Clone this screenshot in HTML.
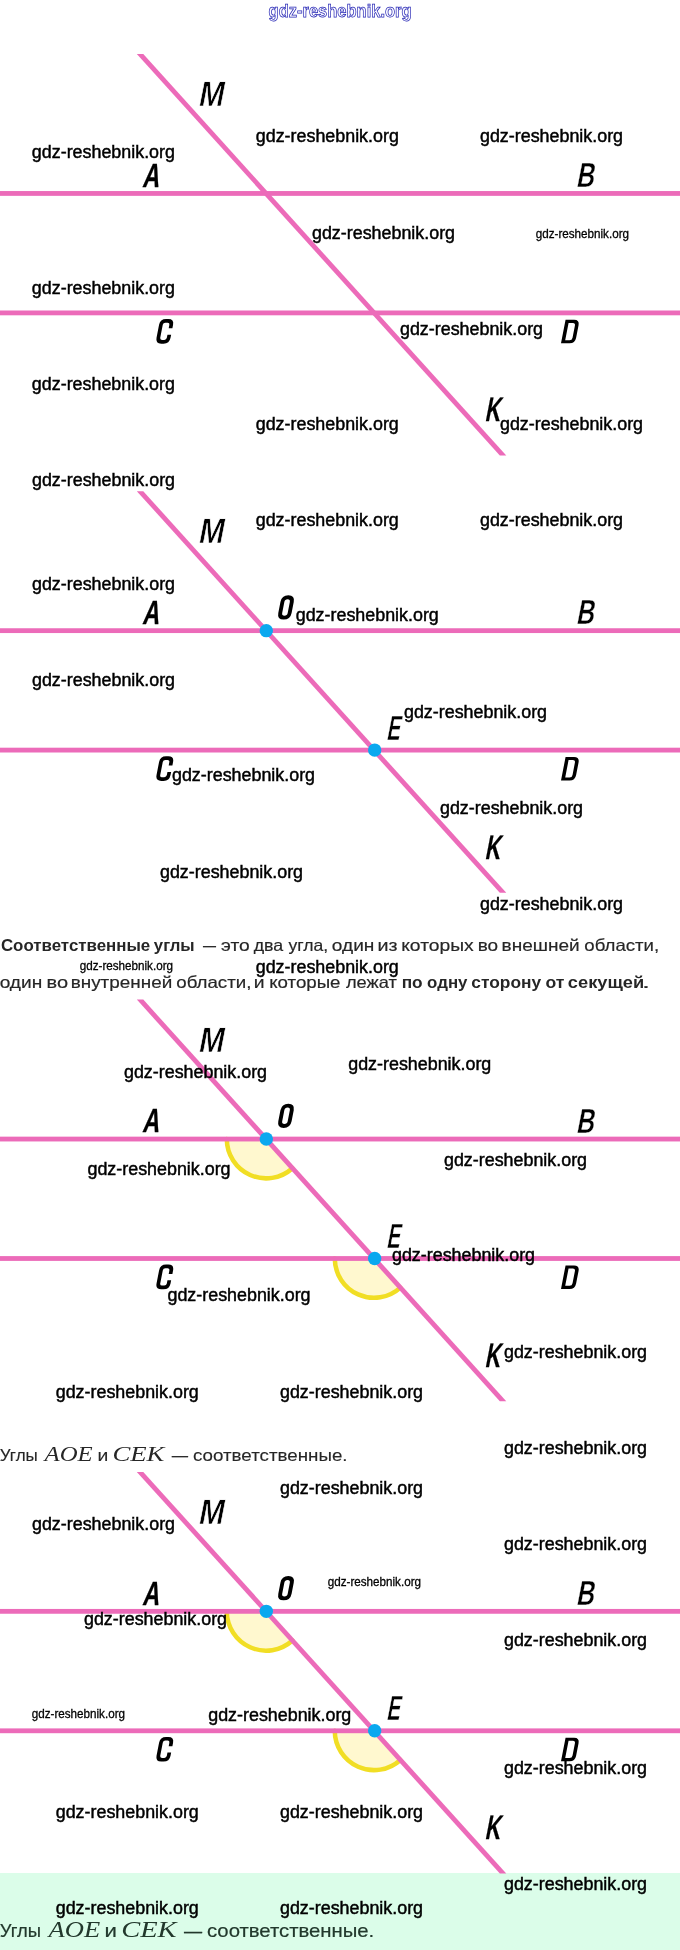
<!DOCTYPE html>
<html><head><meta charset="utf-8"><style>
html,body{margin:0;padding:0;background:#fff;}
body{width:680px;height:1950px;position:relative;overflow:hidden;font-family:"Liberation Sans",sans-serif;}
svg{position:absolute;left:0;top:0;}
.lb{font-family:"Liberation Sans",sans-serif;font-weight:bold;fill:#000;}
.wm text{font-family:"Liberation Sans",sans-serif;fill:#000;}
.tx{font-family:"Liberation Sans",sans-serif;fill:#333;}
.tb{font-weight:bold;}
.mi{font-family:"Liberation Serif",serif;font-style:italic;}
</style></head><body>
<div style="position:absolute;left:0;top:1872.5px;width:680px;height:77.5px;background:#dbfde9"></div>
<svg width="680" height="1950" viewBox="0 0 680 1950" style="will-change:transform">
<g transform="translate(0,0)">
<rect x="0" y="191.05" width="680" height="4.8" fill="#ec6bb9"/>
<rect x="0" y="310.50" width="680" height="4.8" fill="#ec6bb9"/>
<polygon points="136.81,54.00 143.29,54.00 506.29,455.60 499.81,455.60" fill="#ec6bb9"/>
<text class="lb" stroke="#fff" stroke-width="0.7" font-size="35.33" transform="translate(197.5,106.0) skewX(-11) scale(0.8627,1)">M</text>
<text class="lb" stroke="#000" stroke-width="0.35" font-size="33.49" transform="translate(142.0,186.75) skewX(-11) scale(0.6978,1)">A</text>
<text class="lb" stroke="#fff" stroke-width="0.4" font-size="34.94" transform="translate(575.75,187.25) skewX(-11) scale(0.702,1)">B</text>
<path transform="translate(155.40,343.70) skewX(-11)" d="M12.15,-15.40 L12.15,-18.85 Q12.15,-22.85 8.15,-22.85 L5.85,-22.85 Q1.85,-22.85 1.85,-18.85 L1.85,-5.85 Q1.85,-1.85 5.85,-1.85 L8.15,-1.85 Q12.15,-1.85 12.15,-5.85 L12.15,-9.00" fill="none" stroke="#000" stroke-width="3.7" stroke-linecap="butt"/>
<path transform="translate(561.00,343.30) skewX(-11)" d="M0,0 L0,-23.5 L8.55,-23.5 Q14.05,-23.5 14.05,-18.00 L14.05,-5.50 Q14.05,0 8.55,0 Z M3.60,-3.10 L7.95,-3.10 Q10.45,-3.10 10.45,-5.60 L10.45,-17.90 Q10.45,-20.40 7.95,-20.40 L3.60,-20.40 Z" fill="#000" fill-rule="evenodd"/>
<text class="lb" stroke="#000" stroke-width="0.3" font-size="33.84" transform="translate(484.45,421.4) skewX(-11) scale(0.623,1)">K</text>
</g><g transform="translate(0,437.2)">
<rect x="0" y="191.05" width="680" height="4.8" fill="#ec6bb9"/>
<rect x="0" y="310.50" width="680" height="4.8" fill="#ec6bb9"/>
<polygon points="136.81,54.00 143.29,54.00 506.29,455.60 499.81,455.60" fill="#ec6bb9"/>
<circle cx="266.30" cy="193.45" r="6.7" fill="#0ba8ef"/>
<circle cx="374.67" cy="312.90" r="6.7" fill="#0ba8ef"/>
<text class="lb" stroke="#fff" stroke-width="0.7" font-size="35.33" transform="translate(197.5,106.0) skewX(-11) scale(0.8627,1)">M</text>
<text class="lb" stroke="#000" stroke-width="0.35" font-size="33.49" transform="translate(142.0,186.75) skewX(-11) scale(0.6978,1)">A</text>
<text class="lb" stroke="#fff" stroke-width="0.4" font-size="34.94" transform="translate(575.75,187.25) skewX(-11) scale(0.702,1)">B</text>
<path transform="translate(155.40,343.70) skewX(-11)" d="M12.15,-15.40 L12.15,-18.85 Q12.15,-22.85 8.15,-22.85 L5.85,-22.85 Q1.85,-22.85 1.85,-18.85 L1.85,-5.85 Q1.85,-1.85 5.85,-1.85 L8.15,-1.85 Q12.15,-1.85 12.15,-5.85 L12.15,-9.00" fill="none" stroke="#000" stroke-width="3.7" stroke-linecap="butt"/>
<path transform="translate(561.00,343.30) skewX(-11)" d="M0,0 L0,-23.5 L8.55,-23.5 Q14.05,-23.5 14.05,-18.00 L14.05,-5.50 Q14.05,0 8.55,0 Z M3.60,-3.10 L7.95,-3.10 Q10.45,-3.10 10.45,-5.60 L10.45,-17.90 Q10.45,-20.40 7.95,-20.40 L3.60,-20.40 Z" fill="#000" fill-rule="evenodd"/>
<text class="lb" stroke="#000" stroke-width="0.3" font-size="33.84" transform="translate(484.45,421.4) skewX(-11) scale(0.623,1)">K</text>
<path transform="translate(277.00,182.40) skewX(-11)" d="M1.95,-17.65 Q1.95,-22.35 6.65,-22.35 L6.65,-22.35 Q11.35,-22.35 11.35,-17.65 L11.35,-6.65 Q11.35,-1.95 6.65,-1.95 L6.65,-1.95 Q1.95,-1.95 1.95,-6.65 Z" fill="none" stroke="#000" stroke-width="3.9" stroke-linecap="butt"/>
<text class="lb" stroke="#fff" stroke-width="0.5" font-size="35.02" transform="translate(386.0,302.55) skewX(-11) scale(0.5767,1)">E</text>
</g><g transform="translate(0,945.6)">
<path d="M266.10,193.45 L226.80,193.45 A39.3,39.3 0 0 0 292.45,222.61 Z" fill="#fff8cf"/>
<path d="M226.80,193.45 A39.3,39.3 0 0 0 292.45,222.61" fill="none" stroke="#f1de24" stroke-width="4.5" stroke-linecap="round"/>
<path d="M374.07,312.90 L334.77,312.90 A39.3,39.3 0 0 0 400.42,342.06 Z" fill="#fff8cf"/>
<path d="M334.77,312.90 A39.3,39.3 0 0 0 400.42,342.06" fill="none" stroke="#f1de24" stroke-width="4.5" stroke-linecap="round"/>
<rect x="0" y="191.05" width="680" height="4.8" fill="#ec6bb9"/>
<rect x="0" y="310.50" width="680" height="4.8" fill="#ec6bb9"/>
<polygon points="136.81,54.00 143.29,54.00 506.29,455.60 499.81,455.60" fill="#ec6bb9"/>
<circle cx="266.30" cy="193.45" r="6.7" fill="#0ba8ef"/>
<circle cx="374.67" cy="312.90" r="6.7" fill="#0ba8ef"/>
<text class="lb" stroke="#fff" stroke-width="0.7" font-size="35.33" transform="translate(197.5,106.0) skewX(-11) scale(0.8627,1)">M</text>
<text class="lb" stroke="#000" stroke-width="0.35" font-size="33.49" transform="translate(142.0,186.75) skewX(-11) scale(0.6978,1)">A</text>
<text class="lb" stroke="#fff" stroke-width="0.4" font-size="34.94" transform="translate(575.75,187.25) skewX(-11) scale(0.702,1)">B</text>
<path transform="translate(155.40,343.70) skewX(-11)" d="M12.15,-15.40 L12.15,-18.85 Q12.15,-22.85 8.15,-22.85 L5.85,-22.85 Q1.85,-22.85 1.85,-18.85 L1.85,-5.85 Q1.85,-1.85 5.85,-1.85 L8.15,-1.85 Q12.15,-1.85 12.15,-5.85 L12.15,-9.00" fill="none" stroke="#000" stroke-width="3.7" stroke-linecap="butt"/>
<path transform="translate(561.00,343.30) skewX(-11)" d="M0,0 L0,-23.5 L8.55,-23.5 Q14.05,-23.5 14.05,-18.00 L14.05,-5.50 Q14.05,0 8.55,0 Z M3.60,-3.10 L7.95,-3.10 Q10.45,-3.10 10.45,-5.60 L10.45,-17.90 Q10.45,-20.40 7.95,-20.40 L3.60,-20.40 Z" fill="#000" fill-rule="evenodd"/>
<text class="lb" stroke="#000" stroke-width="0.3" font-size="33.84" transform="translate(484.45,421.4) skewX(-11) scale(0.623,1)">K</text>
<path transform="translate(277.00,182.40) skewX(-11)" d="M1.95,-17.65 Q1.95,-22.35 6.65,-22.35 L6.65,-22.35 Q11.35,-22.35 11.35,-17.65 L11.35,-6.65 Q11.35,-1.95 6.65,-1.95 L6.65,-1.95 Q1.95,-1.95 1.95,-6.65 Z" fill="none" stroke="#000" stroke-width="3.9" stroke-linecap="butt"/>
<text class="lb" stroke="#fff" stroke-width="0.5" font-size="35.02" transform="translate(386.0,302.55) skewX(-11) scale(0.5767,1)">E</text>
</g><g transform="translate(0,1417.9)">
<path d="M266.10,193.45 L226.80,193.45 A39.3,39.3 0 0 0 292.45,222.61 Z" fill="#fff8cf"/>
<path d="M226.80,193.45 A39.3,39.3 0 0 0 292.45,222.61" fill="none" stroke="#f1de24" stroke-width="4.5" stroke-linecap="round"/>
<path d="M374.07,312.90 L334.77,312.90 A39.3,39.3 0 0 0 400.42,342.06 Z" fill="#fff8cf"/>
<path d="M334.77,312.90 A39.3,39.3 0 0 0 400.42,342.06" fill="none" stroke="#f1de24" stroke-width="4.5" stroke-linecap="round"/>
<rect x="0" y="191.05" width="680" height="4.8" fill="#ec6bb9"/>
<rect x="0" y="310.50" width="680" height="4.8" fill="#ec6bb9"/>
<polygon points="136.81,54.00 143.29,54.00 506.29,455.60 499.81,455.60" fill="#ec6bb9"/>
<circle cx="266.30" cy="193.45" r="6.7" fill="#0ba8ef"/>
<circle cx="374.67" cy="312.90" r="6.7" fill="#0ba8ef"/>
<text class="lb" stroke="#fff" stroke-width="0.7" font-size="35.33" transform="translate(197.5,106.0) skewX(-11) scale(0.8627,1)">M</text>
<text class="lb" stroke="#000" stroke-width="0.35" font-size="33.49" transform="translate(142.0,186.75) skewX(-11) scale(0.6978,1)">A</text>
<text class="lb" stroke="#fff" stroke-width="0.4" font-size="34.94" transform="translate(575.75,187.25) skewX(-11) scale(0.702,1)">B</text>
<path transform="translate(155.40,343.70) skewX(-11)" d="M12.15,-15.40 L12.15,-18.85 Q12.15,-22.85 8.15,-22.85 L5.85,-22.85 Q1.85,-22.85 1.85,-18.85 L1.85,-5.85 Q1.85,-1.85 5.85,-1.85 L8.15,-1.85 Q12.15,-1.85 12.15,-5.85 L12.15,-9.00" fill="none" stroke="#000" stroke-width="3.7" stroke-linecap="butt"/>
<path transform="translate(561.00,343.30) skewX(-11)" d="M0,0 L0,-23.5 L8.55,-23.5 Q14.05,-23.5 14.05,-18.00 L14.05,-5.50 Q14.05,0 8.55,0 Z M3.60,-3.10 L7.95,-3.10 Q10.45,-3.10 10.45,-5.60 L10.45,-17.90 Q10.45,-20.40 7.95,-20.40 L3.60,-20.40 Z" fill="#000" fill-rule="evenodd"/>
<text class="lb" stroke="#000" stroke-width="0.3" font-size="33.84" transform="translate(484.45,421.4) skewX(-11) scale(0.623,1)">K</text>
<path transform="translate(277.00,182.40) skewX(-11)" d="M1.95,-17.65 Q1.95,-22.35 6.65,-22.35 L6.65,-22.35 Q11.35,-22.35 11.35,-17.65 L11.35,-6.65 Q11.35,-1.95 6.65,-1.95 L6.65,-1.95 Q1.95,-1.95 1.95,-6.65 Z" fill="none" stroke="#000" stroke-width="3.9" stroke-linecap="butt"/>
<text class="lb" stroke="#fff" stroke-width="0.5" font-size="35.02" transform="translate(386.0,302.55) skewX(-11) scale(0.5767,1)">E</text>
</g>
<g class="tx">
<text y="951.3" fill="#262626"><tspan x="0.93" font-family="Liberation Sans" font-weight="bold" font-style="normal" font-size="16.5" textLength="149.34" lengthAdjust="spacingAndGlyphs">Соответственные</tspan><tspan x="153.85" font-family="Liberation Sans" font-weight="bold" font-style="normal" font-size="16.5" textLength="40.79" lengthAdjust="spacingAndGlyphs">углы</tspan><tspan x="202.90" font-family="Liberation Sans" font-weight="normal" font-style="normal" font-size="16.5" textLength="13.00" lengthAdjust="spacingAndGlyphs" stroke="#262626" stroke-width="0.18">—</tspan><tspan x="221.02" font-family="Liberation Sans" font-weight="normal" font-style="normal" font-size="16.5" textLength="28.69" lengthAdjust="spacingAndGlyphs" stroke="#262626" stroke-width="0.18">это</tspan><tspan x="253.73" font-family="Liberation Sans" font-weight="normal" font-style="normal" font-size="16.5" textLength="29.52" lengthAdjust="spacingAndGlyphs" stroke="#262626" stroke-width="0.18">два</tspan><tspan x="288.40" font-family="Liberation Sans" font-weight="normal" font-style="normal" font-size="16.5" textLength="39.75" lengthAdjust="spacingAndGlyphs" stroke="#262626" stroke-width="0.18">угла,</tspan><tspan x="331.83" font-family="Liberation Sans" font-weight="normal" font-style="normal" font-size="16.5" textLength="42.56" lengthAdjust="spacingAndGlyphs" stroke="#262626" stroke-width="0.18">один</tspan><tspan x="377.51" font-family="Liberation Sans" font-weight="normal" font-style="normal" font-size="16.5" textLength="20.04" lengthAdjust="spacingAndGlyphs" stroke="#262626" stroke-width="0.18">из</tspan><tspan x="401.23" font-family="Liberation Sans" font-weight="normal" font-style="normal" font-size="16.5" textLength="72.53" lengthAdjust="spacingAndGlyphs" stroke="#262626" stroke-width="0.18">которых</tspan><tspan x="477.66" font-family="Liberation Sans" font-weight="normal" font-style="normal" font-size="16.5" textLength="20.42" lengthAdjust="spacingAndGlyphs" stroke="#262626" stroke-width="0.18">во</tspan><tspan x="501.56" font-family="Liberation Sans" font-weight="normal" font-style="normal" font-size="16.5" textLength="78.15" lengthAdjust="spacingAndGlyphs" stroke="#262626" stroke-width="0.18">внешней</tspan><tspan x="584.35" font-family="Liberation Sans" font-weight="normal" font-style="normal" font-size="16.5" textLength="74.81" lengthAdjust="spacingAndGlyphs" stroke="#262626" stroke-width="0.18">области,</tspan></text>
<text y="987.5" fill="#262626"><tspan x="-0.37" font-family="Liberation Sans" font-weight="normal" font-style="normal" font-size="16.5" textLength="42.56" lengthAdjust="spacingAndGlyphs" stroke="#262626" stroke-width="0.18">один</tspan><tspan x="46.58" font-family="Liberation Sans" font-weight="normal" font-style="normal" font-size="16.5" textLength="21.54" lengthAdjust="spacingAndGlyphs" stroke="#262626" stroke-width="0.18">во</tspan><tspan x="70.67" font-family="Liberation Sans" font-weight="normal" font-style="normal" font-size="16.5" textLength="101.56" lengthAdjust="spacingAndGlyphs" stroke="#262626" stroke-width="0.18">внутренней</tspan><tspan x="176.25" font-family="Liberation Sans" font-weight="normal" font-style="normal" font-size="16.5" textLength="75.12" lengthAdjust="spacingAndGlyphs" stroke="#262626" stroke-width="0.18">области,</tspan><tspan x="253.84" font-family="Liberation Sans" font-weight="normal" font-style="normal" font-size="16.5" textLength="10.79" lengthAdjust="spacingAndGlyphs" stroke="#262626" stroke-width="0.18">и</tspan><tspan x="269.17" font-family="Liberation Sans" font-weight="normal" font-style="normal" font-size="16.5" textLength="71.37" lengthAdjust="spacingAndGlyphs" stroke="#262626" stroke-width="0.18">которые</tspan><tspan x="345.90" font-family="Liberation Sans" font-weight="normal" font-style="normal" font-size="16.5" textLength="50.91" lengthAdjust="spacingAndGlyphs" stroke="#262626" stroke-width="0.18">лежат</tspan><tspan x="401.69" font-family="Liberation Sans" font-weight="bold" font-style="normal" font-size="16.5" textLength="20.94" lengthAdjust="spacingAndGlyphs">по</tspan><tspan x="427.13" font-family="Liberation Sans" font-weight="bold" font-style="normal" font-size="16.5" textLength="40.30" lengthAdjust="spacingAndGlyphs">одну</tspan><tspan x="471.31" font-family="Liberation Sans" font-weight="bold" font-style="normal" font-size="16.5" textLength="69.87" lengthAdjust="spacingAndGlyphs">сторону</tspan><tspan x="545.40" font-family="Liberation Sans" font-weight="bold" font-style="normal" font-size="16.5" textLength="18.93" lengthAdjust="spacingAndGlyphs">от</tspan><tspan x="567.87" font-family="Liberation Sans" font-weight="bold" font-style="normal" font-size="16.5" textLength="76.24" lengthAdjust="spacingAndGlyphs">секущей</tspan><tspan x="641.90" font-family="Liberation Sans" font-weight="normal" font-style="normal" font-size="16.5" textLength="7.96" lengthAdjust="spacingAndGlyphs" stroke="#262626" stroke-width="0.18">.</tspan></text>
<text y="1461.4" fill="#262626"><tspan x="-0.21" font-family="Liberation Sans" font-weight="normal" font-style="normal" font-size="16.5" textLength="37.99" lengthAdjust="spacingAndGlyphs" stroke="#262626" stroke-width="0.12">Углы</tspan><tspan x="44.64" font-family="Liberation Serif" font-weight="normal" font-style="italic" font-size="21.5" textLength="48.10" lengthAdjust="spacingAndGlyphs">AOE</tspan><tspan x="97.54" font-family="Liberation Sans" font-weight="normal" font-style="normal" font-size="16.5" textLength="10.79" lengthAdjust="spacingAndGlyphs" stroke="#262626" stroke-width="0.12">и</tspan><tspan x="112.45" font-family="Liberation Serif" font-weight="normal" font-style="italic" font-size="21.5" textLength="52.01" lengthAdjust="spacingAndGlyphs">CEK</tspan><tspan x="171.80" font-family="Liberation Sans" font-weight="normal" font-style="normal" font-size="16.5" textLength="16.30" lengthAdjust="spacingAndGlyphs" stroke="#262626" stroke-width="0.12">—</tspan><tspan x="192.95" font-family="Liberation Sans" font-weight="normal" font-style="normal" font-size="16.5" textLength="154.64" lengthAdjust="spacingAndGlyphs" stroke="#262626" stroke-width="0.12">соответственные.</tspan></text>
<text y="1937.4" fill="#22382c"><tspan x="-0.20" font-family="Liberation Sans" font-weight="normal" font-style="normal" font-size="18.5" textLength="41.25" lengthAdjust="spacingAndGlyphs" stroke="#22382c" stroke-width="0.2">Углы</tspan><tspan x="48.64" font-family="Liberation Serif" font-weight="normal" font-style="italic" font-size="23" textLength="51.60" lengthAdjust="spacingAndGlyphs">AOE</tspan><tspan x="104.40" font-family="Liberation Sans" font-weight="normal" font-style="normal" font-size="18.5" textLength="12.41" lengthAdjust="spacingAndGlyphs" stroke="#22382c" stroke-width="0.2">и</tspan><tspan x="121.15" font-family="Liberation Serif" font-weight="normal" font-style="italic" font-size="23" textLength="55.39" lengthAdjust="spacingAndGlyphs">CEK</tspan><tspan x="184.00" font-family="Liberation Sans" font-weight="normal" font-style="normal" font-size="18.5" textLength="18.10" lengthAdjust="spacingAndGlyphs" stroke="#22382c" stroke-width="0.2">—</tspan><tspan x="206.98" font-family="Liberation Sans" font-weight="normal" font-style="normal" font-size="18.5" textLength="167.31" lengthAdjust="spacingAndGlyphs" stroke="#22382c" stroke-width="0.2">соответственные.</tspan></text>
</g>

<g class="wm">
<text x="255.79" y="142.00" font-size="17.5" textLength="143.06" lengthAdjust="spacingAndGlyphs" stroke="#000" stroke-width="0.45">gdz-reshebnik.org</text>
<text x="479.99" y="142.00" font-size="17.5" textLength="143.06" lengthAdjust="spacingAndGlyphs" stroke="#000" stroke-width="0.45">gdz-reshebnik.org</text>
<text x="31.89" y="157.90" font-size="17.5" textLength="143.06" lengthAdjust="spacingAndGlyphs" stroke="#000" stroke-width="0.45">gdz-reshebnik.org</text>
<text x="311.99" y="238.75" font-size="17.5" textLength="143.06" lengthAdjust="spacingAndGlyphs" stroke="#000" stroke-width="0.45">gdz-reshebnik.org</text>
<text x="535.73" y="238.40" font-size="12.5" textLength="93.29" lengthAdjust="spacingAndGlyphs" stroke="#000" stroke-width="0.3">gdz-reshebnik.org</text>
<text x="31.89" y="293.80" font-size="17.5" textLength="143.06" lengthAdjust="spacingAndGlyphs" stroke="#000" stroke-width="0.45">gdz-reshebnik.org</text>
<text x="399.99" y="334.50" font-size="17.5" textLength="143.06" lengthAdjust="spacingAndGlyphs" stroke="#000" stroke-width="0.45">gdz-reshebnik.org</text>
<text x="31.89" y="389.60" font-size="17.5" textLength="143.06" lengthAdjust="spacingAndGlyphs" stroke="#000" stroke-width="0.45">gdz-reshebnik.org</text>
<text x="255.74" y="430.00" font-size="17.5" textLength="143.06" lengthAdjust="spacingAndGlyphs" stroke="#000" stroke-width="0.45">gdz-reshebnik.org</text>
<text x="499.99" y="429.50" font-size="17.5" textLength="143.06" lengthAdjust="spacingAndGlyphs" stroke="#000" stroke-width="0.45">gdz-reshebnik.org</text>
<text x="31.99" y="485.50" font-size="17.5" textLength="143.06" lengthAdjust="spacingAndGlyphs" stroke="#000" stroke-width="0.45">gdz-reshebnik.org</text>
<text x="255.74" y="525.75" font-size="17.5" textLength="143.06" lengthAdjust="spacingAndGlyphs" stroke="#000" stroke-width="0.45">gdz-reshebnik.org</text>
<text x="479.99" y="525.75" font-size="17.5" textLength="143.06" lengthAdjust="spacingAndGlyphs" stroke="#000" stroke-width="0.45">gdz-reshebnik.org</text>
<text x="31.99" y="589.50" font-size="17.5" textLength="143.06" lengthAdjust="spacingAndGlyphs" stroke="#000" stroke-width="0.45">gdz-reshebnik.org</text>
<text x="295.74" y="621.25" font-size="17.5" textLength="143.06" lengthAdjust="spacingAndGlyphs" stroke="#000" stroke-width="0.45">gdz-reshebnik.org</text>
<text x="31.99" y="685.50" font-size="17.5" textLength="143.06" lengthAdjust="spacingAndGlyphs" stroke="#000" stroke-width="0.45">gdz-reshebnik.org</text>
<text x="403.99" y="717.50" font-size="17.5" textLength="143.06" lengthAdjust="spacingAndGlyphs" stroke="#000" stroke-width="0.45">gdz-reshebnik.org</text>
<text x="171.99" y="781.25" font-size="17.5" textLength="143.06" lengthAdjust="spacingAndGlyphs" stroke="#000" stroke-width="0.45">gdz-reshebnik.org</text>
<text x="439.99" y="813.75" font-size="17.5" textLength="143.06" lengthAdjust="spacingAndGlyphs" stroke="#000" stroke-width="0.45">gdz-reshebnik.org</text>
<text x="159.99" y="878.25" font-size="17.5" textLength="143.06" lengthAdjust="spacingAndGlyphs" stroke="#000" stroke-width="0.45">gdz-reshebnik.org</text>
<text x="479.99" y="910.00" font-size="17.5" textLength="143.06" lengthAdjust="spacingAndGlyphs" stroke="#000" stroke-width="0.45">gdz-reshebnik.org</text>
<text x="79.73" y="970.20" font-size="12.5" textLength="93.29" lengthAdjust="spacingAndGlyphs" stroke="#000" stroke-width="0.3">gdz-reshebnik.org</text>
<text x="255.74" y="973.00" font-size="17.5" textLength="143.06" lengthAdjust="spacingAndGlyphs" stroke="#000" stroke-width="0.45">gdz-reshebnik.org</text>
<text x="348.24" y="1070.00" font-size="17.5" textLength="143.06" lengthAdjust="spacingAndGlyphs" stroke="#000" stroke-width="0.45">gdz-reshebnik.org</text>
<text x="123.99" y="1078.25" font-size="17.5" textLength="143.06" lengthAdjust="spacingAndGlyphs" stroke="#000" stroke-width="0.45">gdz-reshebnik.org</text>
<text x="87.49" y="1175.00" font-size="17.5" textLength="143.06" lengthAdjust="spacingAndGlyphs" stroke="#000" stroke-width="0.45">gdz-reshebnik.org</text>
<text x="443.99" y="1165.75" font-size="17.5" textLength="143.06" lengthAdjust="spacingAndGlyphs" stroke="#000" stroke-width="0.45">gdz-reshebnik.org</text>
<text x="391.99" y="1261.25" font-size="17.5" textLength="143.06" lengthAdjust="spacingAndGlyphs" stroke="#000" stroke-width="0.45">gdz-reshebnik.org</text>
<text x="167.49" y="1301.25" font-size="17.5" textLength="143.06" lengthAdjust="spacingAndGlyphs" stroke="#000" stroke-width="0.45">gdz-reshebnik.org</text>
<text x="503.99" y="1357.50" font-size="17.5" textLength="143.06" lengthAdjust="spacingAndGlyphs" stroke="#000" stroke-width="0.45">gdz-reshebnik.org</text>
<text x="55.74" y="1398.25" font-size="17.5" textLength="143.06" lengthAdjust="spacingAndGlyphs" stroke="#000" stroke-width="0.45">gdz-reshebnik.org</text>
<text x="279.99" y="1398.25" font-size="17.5" textLength="143.06" lengthAdjust="spacingAndGlyphs" stroke="#000" stroke-width="0.45">gdz-reshebnik.org</text>
<text x="503.99" y="1453.75" font-size="17.5" textLength="143.06" lengthAdjust="spacingAndGlyphs" stroke="#000" stroke-width="0.45">gdz-reshebnik.org</text>
<text x="279.99" y="1494.25" font-size="17.5" textLength="143.06" lengthAdjust="spacingAndGlyphs" stroke="#000" stroke-width="0.45">gdz-reshebnik.org</text>
<text x="31.99" y="1530.00" font-size="17.5" textLength="143.06" lengthAdjust="spacingAndGlyphs" stroke="#000" stroke-width="0.45">gdz-reshebnik.org</text>
<text x="503.99" y="1549.50" font-size="17.5" textLength="143.06" lengthAdjust="spacingAndGlyphs" stroke="#000" stroke-width="0.45">gdz-reshebnik.org</text>
<text x="327.73" y="1586.40" font-size="12.5" textLength="93.29" lengthAdjust="spacingAndGlyphs" stroke="#000" stroke-width="0.3">gdz-reshebnik.org</text>
<text x="83.99" y="1625.00" font-size="17.5" textLength="143.06" lengthAdjust="spacingAndGlyphs" stroke="#000" stroke-width="0.45">gdz-reshebnik.org</text>
<text x="503.99" y="1645.50" font-size="17.5" textLength="143.06" lengthAdjust="spacingAndGlyphs" stroke="#000" stroke-width="0.45">gdz-reshebnik.org</text>
<text x="31.73" y="1718.40" font-size="12.5" textLength="93.29" lengthAdjust="spacingAndGlyphs" stroke="#000" stroke-width="0.3">gdz-reshebnik.org</text>
<text x="208.24" y="1721.25" font-size="17.5" textLength="143.06" lengthAdjust="spacingAndGlyphs" stroke="#000" stroke-width="0.45">gdz-reshebnik.org</text>
<text x="503.99" y="1773.75" font-size="17.5" textLength="143.06" lengthAdjust="spacingAndGlyphs" stroke="#000" stroke-width="0.45">gdz-reshebnik.org</text>
<text x="55.74" y="1818.25" font-size="17.5" textLength="143.06" lengthAdjust="spacingAndGlyphs" stroke="#000" stroke-width="0.45">gdz-reshebnik.org</text>
<text x="279.99" y="1818.25" font-size="17.5" textLength="143.06" lengthAdjust="spacingAndGlyphs" stroke="#000" stroke-width="0.45">gdz-reshebnik.org</text>
<text x="503.99" y="1889.50" font-size="17.5" textLength="143.06" lengthAdjust="spacingAndGlyphs" stroke="#000" stroke-width="0.45">gdz-reshebnik.org</text>
<text x="55.74" y="1913.75" font-size="17.5" textLength="143.06" lengthAdjust="spacingAndGlyphs" stroke="#000" stroke-width="0.45">gdz-reshebnik.org</text>
<text x="279.99" y="1913.75" font-size="17.5" textLength="143.06" lengthAdjust="spacingAndGlyphs" stroke="#000" stroke-width="0.45">gdz-reshebnik.org</text>
</g>
<text x="268.6" y="17.2" font-family="Liberation Sans" font-weight="bold" font-size="18.5" textLength="143" lengthAdjust="spacingAndGlyphs" fill="#fbfbff" stroke="#2424b4" stroke-width="0.75">gdz-reshebnik.org</text>

</svg>
</body></html>
